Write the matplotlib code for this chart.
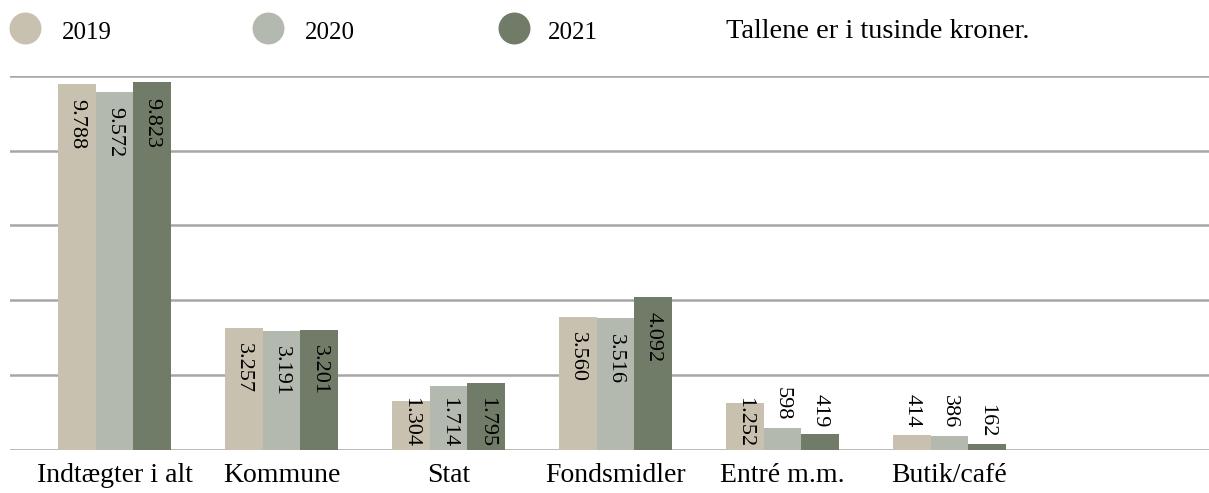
import numpy as np
import matplotlib.pyplot as plt
from matplotlib.lines import Line2D

# data (tusinde kroner)
kategorier = ['Indtægter i alt', 'Kommune', 'Stat', 'Fondsmidler', 'Entré m.m.', 'Butik/café']
aar = ['2019', '2020', '2021']
v2019 = [9788, 3257, 1304, 3560, 1252, 414]
v2020 = [9572, 3191, 1714, 3516, 598, 386]
v2021 = [9823, 3201, 1795, 4092, 419, 162]
farver = ['#c9c1af', '#b3b9ae', '#707b68']

plt.rcParams['font.family'] = ['Liberation Serif', 'DejaVu Serif']

W, H = 1209, 493
fig = plt.figure(figsize=(W/100, H/100), dpi=100)
ax = fig.add_axes([10/W, (H-450)/H, 1-10/W, (450-75.7)/H])

x = np.arange(len(kategorier))
bw = 0.2257
serier = [v2019, v2020, v2021]
for i, vals in enumerate(serier):
    ax.bar(x + (i-1)*bw, vals, bw, color=farver[i], zorder=2)

ax.set_ylim(0, 10000)
ax.set_xlim(-0.626, 6.555)
for y in range(0, 10001, 2000):
    ax.axhline(y, color='#a6a6a6', lw=1.8, zorder=1)
for s in ax.spines.values():
    s.set_visible(False)
ax.set_yticks([])
ax.set_xticks(x)
ax.set_xticklabels(kategorier, fontsize=20)
ax.tick_params(axis='x', length=0, pad=9)

# value labels
labels = []
for i, vals in enumerate(serier):
    for j, v in enumerate(vals):
        txt = f'{v:,}'.replace(',', '.')
        xp = x[j] + (i-1)*bw
        if v >= 1000:
            t = ax.annotate(txt, (xp, v), xytext=(0, -11), textcoords='offset points',
                            rotation=-90, ha='center', va='top', fontsize=16, zorder=3)
        else:
            t = ax.annotate(txt, (xp, v), xytext=(0, 5), textcoords='offset points',
                            rotation=-90, ha='center', va='bottom', fontsize=16, zorder=3)
        labels.append((t, xp, v))

# labels that run past the baseline get pushed up
fig.canvas.draw()
r = fig.canvas.get_renderer()
base = ax.transData.transform((0, 0))[1]
for t, xp, v in labels:
    bb = t.get_window_extent(r)
    if bb.y0 < base + 2:
        t.xy = (xp, 0)
        t.set_position((0, 2))
        t.set_va('bottom')

# legend
lx = [25, 268, 514]
tx = [62, 305, 548]
for i in range(3):
    fig.add_artist(Line2D([lx[i]/W], [1-28/H], marker='o', markersize=22,
                          color=farver[i], transform=fig.transFigure))
    fig.text(tx[i]/W, 1-33/H, aar[i], fontsize=18, va='center', ha='left')
fig.text(726/W, 1-32/H, 'Tallene er i tusinde kroner.', fontsize=20.5, va='center', ha='left')

plt.savefig('out.png', dpi=100)
